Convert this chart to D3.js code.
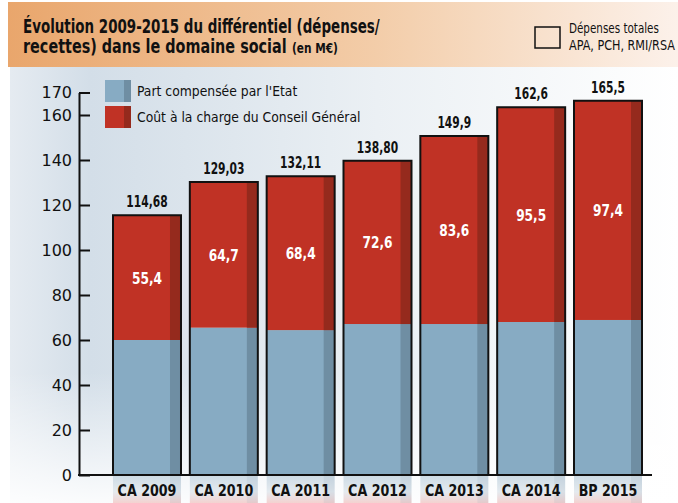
<!DOCTYPE html>
<html lang="fr">
<head>
<meta charset="UTF-8">
<title>Évolution 2009-2015 du différentiel</title>
<script src="https://d3js.org/d3.v7.min.js"></script>
<style>
  html, body { margin: 0; padding: 0; background: #fff; }
  svg { display: block; }
  .cond { font-family: "Liberation Sans Narrow", "DejaVu Sans Condensed", sans-serif; }
</style>
</head>
<body>
<svg width="678" height="503"></svg>
<script>
// données
const categories = ["CA 2009", "CA 2010", "CA 2011", "CA 2012", "CA 2013", "CA 2014", "BP 2015"];
const partEtat = [60, 65.5, 64.4, 67.1, 67.1, 68, 68.9];
const coutCG = [55.4, 64.7, 68.4, 72.6, 83.6, 95.5, 97.4];
const totalLabels = ["114,68", "129,03", "132,11", "138,80", "149,9", "162,6", "165,5"];
const yTicks = [0, 20, 40, 60, 80, 100, 120, 140, 160, 170];

const blue = "#87abc3", blueDark = "#6f8ea3";
const red = "#c03225", redDark = "#952a1d";

// resserre le texte (police étroite indisponible)
function squeeze(sel, f) {
  sel.each(function() {
    const w = this.getComputedTextLength();
    d3.select(this).attr("textLength", w * f).attr("lengthAdjust", "spacingAndGlyphs");
  });
}
// texte étiré horizontalement pour atteindre une largeur donnée
function scaleTo(sel, x0, y0, w) {
  const w0 = sel.node().getComputedTextLength();
  sel.attr("transform", `translate(${x0},${y0}) scale(${w / w0},1)`);
}

const svg = d3.select("svg");
const defs = svg.append("defs");

// fonds
const hdr = defs.append("linearGradient").attr("id", "hdr");
hdr.append("stop").attr("offset", "0%").attr("stop-color", "#e9a66c");
hdr.append("stop").attr("offset", "55%").attr("stop-color", "#f3cda9");
hdr.append("stop").attr("offset", "100%").attr("stop-color", "#fcf1ea");

const bg = defs.append("linearGradient").attr("id", "bg");
bg.append("stop").attr("offset", "0%").attr("stop-color", "#e5ebf1");
bg.append("stop").attr("offset", "12%").attr("stop-color", "#d3dee8");
bg.append("stop").attr("offset", "55%").attr("stop-color", "#ebf0f4");
bg.append("stop").attr("offset", "100%").attr("stop-color", "#ffffff");

const fade = defs.append("linearGradient").attr("id", "fade")
  .attr("x1", 0).attr("y1", 0).attr("x2", 0).attr("y2", 1);
fade.append("stop").attr("offset", "0%").attr("stop-color", "#fff").attr("stop-opacity", 0);
fade.append("stop").attr("offset", "70%").attr("stop-color", "#fff").attr("stop-opacity", 0);
fade.append("stop").attr("offset", "100%").attr("stop-color", "#fff").attr("stop-opacity", 0.9);

const refl = defs.append("linearGradient").attr("id", "refl")
  .attr("x1", 0).attr("y1", 0).attr("x2", 0).attr("y2", 1);
refl.append("stop").attr("offset", "0%").attr("stop-color", "#cddbe5");
refl.append("stop").attr("offset", "60%").attr("stop-color", "#e4eaef");
refl.append("stop").attr("offset", "100%").attr("stop-color", "#f4d2d0");

svg.append("rect").attr("x", 10).attr("y", 67).attr("width", 668).attr("height", 436).attr("fill", "url(#bg)");
svg.append("rect").attr("x", 10).attr("y", 67).attr("width", 668).attr("height", 436).attr("fill", "url(#fade)");
svg.append("rect").attr("x", 8).attr("y", 2).attr("width", 670).attr("height", 65).attr("fill", "url(#hdr)");

// titre
const titleFont = "'DejaVu Sans Condensed', sans-serif";
const t1 = svg.append("text")
  .attr("font-family", titleFont).attr("font-weight", "bold")
  .attr("font-size", 19).attr("fill", "#111")
  .text("Évolution 2009-2015 du différentiel (dépenses/");
scaleTo(t1, 23, 33, 357);
const t2 = svg.append("text")
  .attr("font-family", titleFont).attr("font-weight", "bold")
  .attr("font-size", 19).attr("fill", "#111")
  .text("recettes) dans le domaine social");
scaleTo(t2, 23, 53, 264);
const t3 = svg.append("text")
  .attr("font-family", titleFont).attr("font-weight", "bold")
  .attr("font-size", 14).attr("fill", "#111").text("(en M€)");
scaleTo(t3, 292, 53, 46);

// légende dépenses totales
svg.append("rect").attr("x", 535).attr("y", 27).attr("width", 25).attr("height", 21)
  .attr("fill", "none").attr("stroke", "#111").attr("stroke-width", 1.5);
const d1 = svg.append("text").attr("class", "cond")
  .attr("font-size", 13.5).attr("fill", "#111").text("Dépenses totales");
scaleTo(d1, 569, 33, 90);
const d2 = svg.append("text").attr("class", "cond")
  .attr("font-size", 13.5).attr("fill", "#111").text("APA, PCH, RMI/RSA");
scaleTo(d2, 569, 50, 106);

// échelles
const x = d3.scaleBand().domain(categories).range([113, 642]).paddingInner(0.115).paddingOuter(0);
const y = d3.scaleLinear().domain([0, 170]).range([475, 92.5]);
const bw = x.bandwidth();
const strip = 11;

const rows = categories.map((c, i) => ({
  cat: c, etat: partEtat[i], cout: coutCG[i], label: totalLabels[i]
}));

// reflets sous l'axe
const rg = svg.append("g");
rg.selectAll("rect.refl").data(rows).join("rect")
  .attr("x", d => x(d.cat)).attr("y", y(0)).attr("width", bw).attr("height", 28)
  .attr("fill", "url(#refl)");
rg.selectAll("rect.rstrip").data(rows).join("rect")
  .attr("x", d => x(d.cat) + bw - strip).attr("y", y(0)).attr("width", strip).attr("height", 28)
  .attr("fill", "#8aa3b5").attr("opacity", 0.15);

// barres
const bars = svg.append("g").selectAll("g").data(rows).join("g");
bars.append("rect")
  .attr("x", d => x(d.cat)).attr("y", d => y(d.etat))
  .attr("width", bw).attr("height", d => y(0) - y(d.etat)).attr("fill", blue);
bars.append("rect")
  .attr("x", d => x(d.cat) + bw - strip).attr("y", d => y(d.etat))
  .attr("width", strip).attr("height", d => y(0) - y(d.etat)).attr("fill", blueDark);
bars.append("rect")
  .attr("x", d => x(d.cat)).attr("y", d => y(d.etat + d.cout))
  .attr("width", bw).attr("height", d => y(d.etat) - y(d.etat + d.cout)).attr("fill", red);
bars.append("rect")
  .attr("x", d => x(d.cat) + bw - strip).attr("y", d => y(d.etat + d.cout))
  .attr("width", strip).attr("height", d => y(d.etat) - y(d.etat + d.cout)).attr("fill", redDark);
bars.append("path")
  .attr("d", d => {
    const x0 = x(d.cat), x1 = x0 + bw, yt = y(d.etat + d.cout);
    return `M${x0},${y(0)}V${yt}H${x1}V${y(0)}`;
  })
  .attr("fill", "none").attr("stroke", "#111").attr("stroke-width", 2);

// valeurs
const totals = bars.append("text").attr("class", "cond")
  .attr("x", d => x(d.cat) + bw / 2).attr("y", d => y(d.etat + d.cout) - 8)
  .attr("text-anchor", "middle").attr("font-size", 16.5).attr("font-weight", "bold")
  .attr("fill", "#111").text(d => d.label);
squeeze(totals, 0.72);
const inner = bars.append("text").attr("class", "cond")
  .attr("x", d => x(d.cat) + bw / 2).attr("y", d => (y(d.etat) + y(d.etat + d.cout)) / 2)
  .attr("dy", "0.36em")
  .attr("text-anchor", "middle").attr("font-size", 16.5).attr("font-weight", "bold")
  .attr("fill", "#fff").text(d => String(d.cout).replace(".", ","));
squeeze(inner, 0.82);

// axe Y
const yAxis = svg.append("g").attr("transform", "translate(79,0)")
  .call(d3.axisLeft(y).tickValues(yTicks).tickSizeInner(-11).tickSizeOuter(0).tickPadding(7));
yAxis.selectAll("path, line").attr("stroke", "#111").attr("stroke-width", 2);
yAxis.selectAll("text").attr("font-family", "'DejaVu Sans', sans-serif")
  .attr("font-size", 16).attr("fill", "#111");

// axe X
svg.append("line").attr("x1", 78).attr("x2", x.range()[1] + 10)
  .attr("y1", y(0)).attr("y2", y(0)).attr("stroke", "#111").attr("stroke-width", 2);
const xAxis = svg.append("g").attr("transform", `translate(0,${y(0)})`)
  .call(d3.axisBottom(x).tickSize(0).tickPadding(10));
xAxis.select(".domain").remove();
const catText = xAxis.selectAll("text").attr("class", "cond").attr("font-size", 16)
  .attr("font-weight", "bold").attr("fill", "#111");
squeeze(catText, 0.88);

// légende
const legendItems = [
  { label: "Part compensée par l'Etat", c: blue, cd: blueDark },
  { label: "Coût à la charge du Conseil Général", c: red, cd: redDark }
];
const lg = svg.append("g").attr("transform", "translate(105,80)");
legendItems.forEach((it, i) => {
  const row = lg.append("g").attr("transform", `translate(0,${i * 26})`);
  row.append("rect").attr("width", 26).attr("height", 22).attr("fill", it.c);
  row.append("rect").attr("x", 19).attr("width", 7).attr("height", 22).attr("fill", it.cd);
  const lt = row.append("text").attr("class", "cond").attr("x", 32).attr("y", 16)
    .attr("font-size", 14.5).attr("fill", "#111").text(it.label);
  squeeze(lt, 0.95);
});
</script>
</body>
</html>
